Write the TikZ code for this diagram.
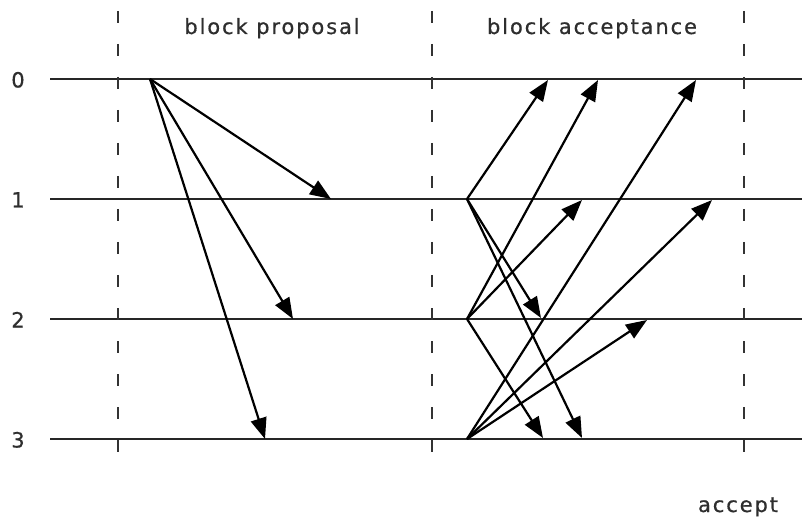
\documentclass[tikz,border=0pt]{standalone}
\usepackage{fontspec}
\setmainfont{DejaVu Sans}[LetterSpace=9,FakeBold=0.6]
\usetikzlibrary{arrows.meta}
\definecolor{txt}{HTML}{2E2E2E}
\tikzset{
  lane/.style={line width=2.2pt, black!85},
  sep/.style={line width=2.2pt, black!80, dash pattern=on 12pt off 21pt},
  msg/.style={line width=2.2pt, black, -{Triangle[length=21pt,width=16pt]}},
  lbl/.style={text=txt, font=\fontsize{21pt}{23pt}\selectfont, anchor=base, inner sep=0pt},
}
\begin{document}
\begin{tikzpicture}[x=1pt,y=-1pt]
\useasboundingbox (0,0) rectangle (802,518);
% lanes
\foreach \i/\y in {0/79,1/199,2/319,3/439}{
  \coordinate (L\i) at (50,\y);
  \coordinate (R\i) at (802,\y);
  \draw[lane] (L\i) -- (R\i);
  \node[lbl] (n\i) at (18,\y+8.5) {\i};
}
% separators
\foreach \k/\x in {a/118,b/432,c/744}{
  \coordinate (T\k) at (\x,11);
  \coordinate (B\k) at (\x,472);
  \draw[sep] (T\k) -- (B\k);
}
\node[lbl] (prop) at (272,34) {block proposal};
\node[lbl] (acc) at (592,34) {block acceptance};
\node[lbl] (accept) at (738,512) {accept};
% proposal
\coordinate (p0) at (150,79);
\coordinate (p1) at (331,199);
\coordinate (p2) at (293,319);
\coordinate (p3) at (265,439);
\draw[msg] (p0) -- (p1);
\draw[msg] (p0) -- (p2);
\draw[msg] (p0) -- (p3);
% acceptance sources
\coordinate (s1) at (467,199);
\coordinate (s2) at (467,319);
\coordinate (s3) at (467,439);
% targets
\coordinate (a10) at (548,80);
\coordinate (a12) at (541,318);
\coordinate (a13) at (582,438);
\coordinate (a20) at (598,80);
\coordinate (a21) at (582,200);
\coordinate (a23) at (543,438);
\coordinate (a30) at (696,80);
\coordinate (a31) at (712,200);
\coordinate (a32) at (647,320);
\draw[msg] (s1) -- (a10);
\draw[msg] (s1) -- (a12);
\draw[msg] (s1) -- (a13);
\draw[msg] (s2) -- (a20);
\draw[msg] (s2) -- (a21);
\draw[msg] (s2) -- (a23);
\draw[msg] (s3) -- (a30);
\draw[msg] (s3) -- (a31);
\draw[msg] (s3) -- (a32);
\end{tikzpicture}
\end{document}
